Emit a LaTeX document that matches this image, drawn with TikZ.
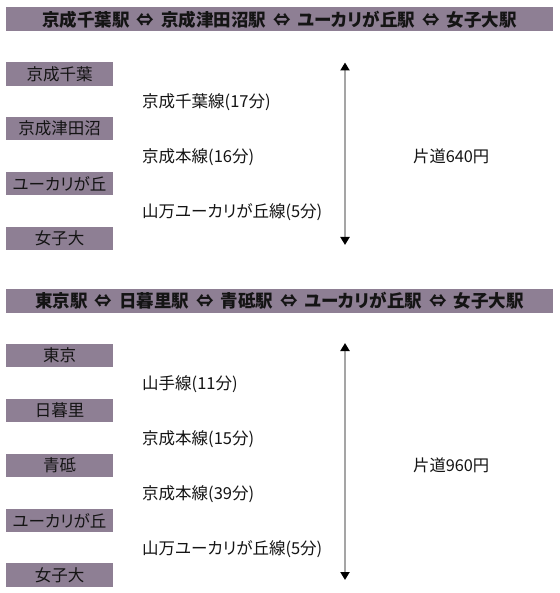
\documentclass[tikz,border=0pt]{standalone}
\usepackage{fontspec}
\newfontfamily\jp[RawFeature=+palt]{Noto Sans CJK JP}
\usetikzlibrary{arrows.meta}
\definecolor{barpurple}{RGB}{142,127,148}
\definecolor{linegray}{RGB}{165,165,165}
\definecolor{ink}{RGB}{20,20,20}
\newcommand{\sep}{\hspace{0.4em}⇔\hspace{0.4em}}
\begin{document}
\begin{tikzpicture}[x=1pt,y=-1pt,
  titlebar/.style={fill=barpurple, minimum width=547pt, minimum height=24pt, inner sep=0pt, text=ink, font=\jp\bfseries\fontsize{17.5}{18}\selectfont},
  stationbox/.style={fill=barpurple, minimum width=107pt, minimum height=23.5pt, inner sep=0pt, text=ink, font=\jp\fontsize{16.5}{17}\selectfont},
  linelabel/.style={anchor=west, inner sep=0pt, text=ink, font=\jp\fontsize{16.5}{17}\selectfont},
  farelabel/.style={anchor=west, inner sep=0pt, text=ink, font=\jp\fontsize{16.3}{17}\selectfont},
  span/.style={draw=linegray, line width=2pt, {Triangle[width=9pt,length=8pt,color=black]}-{Triangle[width=9pt,length=8pt,color=black]}}
]
\useasboundingbox (0,0) rectangle (559,593);

% ---- section 1 ----
\node[titlebar] (t1) at (279.5,19.5) {京成千葉駅\sep 京成津田沼駅\sep ユーカリが丘駅\sep 女子大駅};
\node[stationbox] (s11) at (59.5,74) {京成千葉};
\node[stationbox] (s12) at (59.5,128.75) {京成津田沼};
\node[stationbox] (s13) at (59.5,183.5) {ユーカリが丘};
\node[stationbox] (s14) at (59.5,238.5) {女子大};
\node[linelabel] (l11) at (142,102) {京成千葉線(17分)};
\node[linelabel] (l12) at (142,157) {京成本線(16分)};
\node[linelabel] (l13) at (142,212) {山万ユーカリが丘線(5分)};
\coordinate (a1t) at (345,62.5);
\coordinate (a1b) at (345,245);
\draw[span] (a1b) -- (a1t);
\node[farelabel] (f1) at (413,156) {片道640円};

% ---- section 2 ----
\node[titlebar] (t2) at (279.5,301) {東京駅\sep 日暮里駅\sep 青砥駅\sep ユーカリが丘駅\sep 女子大駅};
\node[stationbox] (s21) at (59.5,355.5) {東京};
\node[stationbox] (s22) at (59.5,410.5) {日暮里};
\node[stationbox] (s23) at (59.5,465.5) {青砥};
\node[stationbox] (s24) at (59.5,520.5) {ユーカリが丘};
\node[stationbox] (s25) at (59.5,575) {女子大};
\node[linelabel] (l21) at (142,384) {山手線(11分)};
\node[linelabel] (l22) at (142,439) {京成本線(15分)};
\node[linelabel] (l23) at (142,494) {京成本線(39分)};
\node[linelabel] (l24) at (142,549) {山万ユーカリが丘線(5分)};
\coordinate (a2t) at (345,343);
\coordinate (a2b) at (345,580);
\draw[span] (a2b) -- (a2t);
\node[farelabel] (f2) at (413,465) {片道960円};
\end{tikzpicture}
\end{document}
